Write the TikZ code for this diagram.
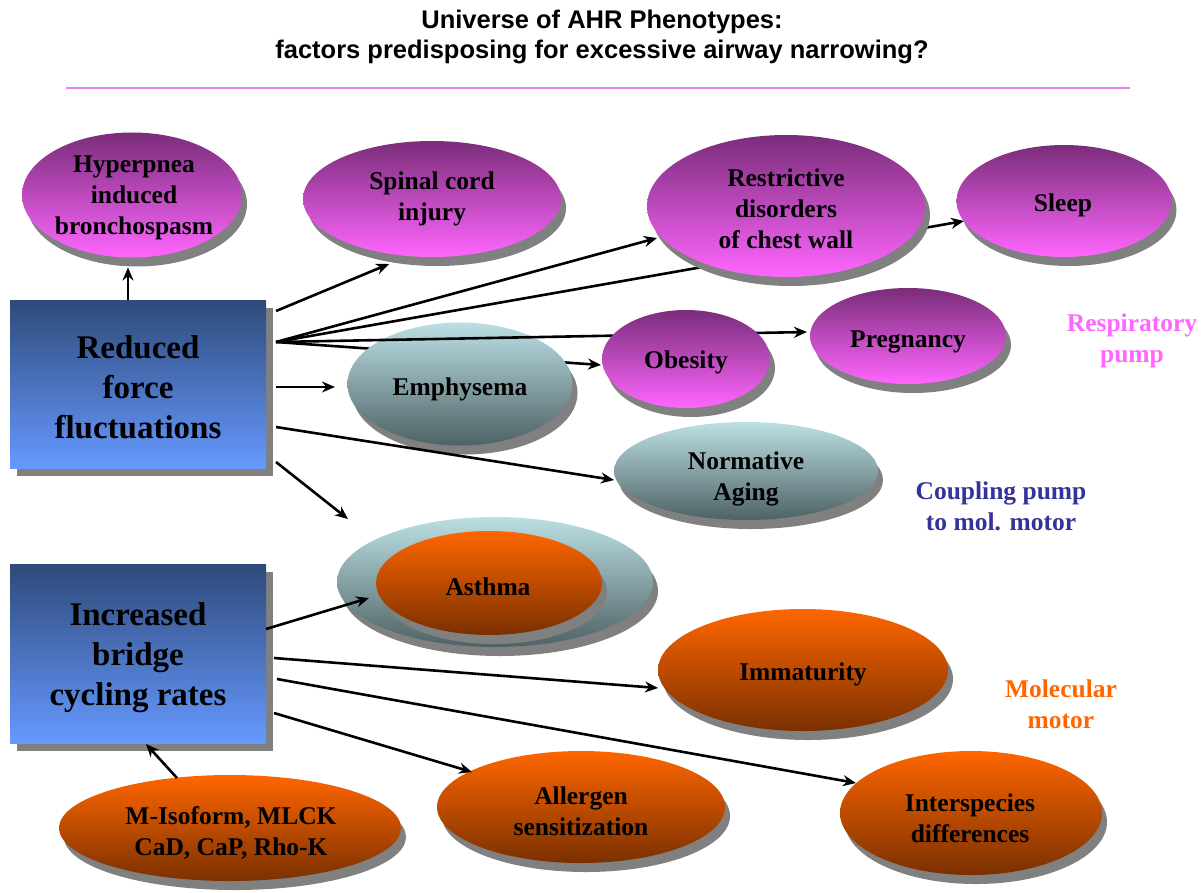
\documentclass[tikz,border=0pt]{standalone}
\usepackage{fontspec}
\setmainfont{Liberation Serif}
\newfontfamily\titlefont{Liberation Sans}
\usetikzlibrary{shapes.geometric,shadows,arrows.meta,calc}
\pgfdeclarelayer{under}
\pgfdeclarelayer{emphl}
\pgfdeclarelayer{midl}
\pgfsetlayers{under,emphl,midl,main}
\definecolor{shgray}{HTML}{808080}
\definecolor{magtop}{HTML}{7A2D7A}
\definecolor{magbot}{HTML}{FF66FF}
\definecolor{tealtop}{HTML}{BCE0E4}
\definecolor{tealbot}{HTML}{4E6265}
\definecolor{orgtop}{HTML}{FF6600}
\definecolor{orgbot}{HTML}{7A3000}
\definecolor{boxtop}{HTML}{2E4A7A}
\definecolor{boxbot}{HTML}{6699FF}
\definecolor{rulepink}{HTML}{F07FF0}
\definecolor{resppink}{HTML}{FF66FF}
\definecolor{coupblue}{HTML}{333399}
\definecolor{molorange}{HTML}{FF6600}
\begin{document}
\begin{tikzpicture}[x=1pt,y=-1pt,
  every node/.style={inner sep=0pt,outer sep=0pt},
  ell/.style={ellipse,draw=none,drop shadow={shadow xshift=5pt,shadow yshift=-9pt,opacity=1,fill=shgray}},
  magell/.style={ell,top color=magtop,bottom color=magbot},
  tealell/.style={ell,top color=tealtop,bottom color=tealbot},
  orgell/.style={ell,top color=orgtop,bottom color=orgbot},
  bigbox/.style={rectangle,minimum width=256pt,top color=boxtop,bottom color=boxbot,
     drop shadow={shadow xshift=7pt,shadow yshift=-8pt,opacity=1,fill=shgray}},
  boxlbl/.style={font=\bfseries\fontsize{33}{40}\selectfont,align=center},
  lbl/.style={font=\bfseries\fontsize{25.5}{31}\selectfont,align=center},
  conn/.style={line width=2.6pt,-{Stealth[length=13pt,width=11pt]}},
]
\useasboundingbox (0,0) rectangle (1204,892);

% title
\node[font=\titlefont\bfseries\fontsize{25.5}{30}\selectfont,align=center] (title) at (602,37)
  {Universe of AHR Phenotypes:\\factors predisposing for excessive airway narrowing?};
\coordinate (ruleL) at (66,88);
\coordinate (ruleR) at (1130,88);
\draw[rulepink,line width=2pt] (ruleL) -- (ruleR);

% boxes
\node[bigbox,minimum height=168pt] (reduced) at (138,384) {};
\node[boxlbl] (reduced-t) at (138,387) {Reduced\\force\\fluctuations};
\node[bigbox,minimum height=179pt] (increased) at (138,653.5) {};
\node[boxlbl] (increased-t) at (138,658) {Increased\\bridge\\cycling rates};

% ellipses
\node[magell,minimum width=220pt,minimum height=125pt] (hyper) at (132,195) {};
\node[lbl] (hyper-t) at (134,198) {Hyperpnea\\induced\\bronchospasm};
\node[magell,minimum width=258pt,minimum height=116pt] (spinal) at (432,199) {};
\node[lbl] (spinal-t) at (432,199) {Spinal cord\\injury};
\node[magell,minimum width=278pt,minimum height=142pt] (restrict) at (786,206) {};
\node[lbl] (restrict-t) at (786,209) {Restrictive\\disorders\\of chest wall};
\node[magell,minimum width=215pt,minimum height=112pt] (sleep) at (1064,201) {};
\node[lbl] (sleep-t) at (1063,205) {Sleep};
\node[magell,minimum width=196pt,minimum height=96pt] (preg) at (908,336) {};
\node[lbl] (preg-t) at (908,342) {Pregnancy};
\node[magell,minimum width=168pt,minimum height=98pt] (obesity) at (686,359) {};
\node[lbl] (obesity-t) at (686,362) {Obesity};
\begin{pgfonlayer}{emphl}
\node[tealell,minimum width=225pt,minimum height=123pt] (emph) at (460,384) {};
\end{pgfonlayer}
\node[lbl] (emph-t) at (460,389) {Emphysema};
\node[tealell,minimum width=264pt,minimum height=98pt] (aging) at (746,471) {};
\node[lbl] (aging-t) at (746,479) {Normative\\Aging};
\node[tealell,minimum width=316pt,minimum height=130pt] (asthmaO) at (495,582) {};
\node[orgell,minimum width=226pt,minimum height=104pt] (asthma) at (489,583) {};
\node[lbl] (asthma-t) at (488,587) {Asthma};
\node[orgell,minimum width=290pt,minimum height=122pt] (immat) at (803,670) {};
\node[lbl] (immat-t) at (803,674) {Immaturity};
\node[orgell,minimum width=288pt,minimum height=112pt] (allerg) at (581,807) {};
\node[lbl] (allerg-t) at (581,811) {Allergen\\sensitization};
\node[orgell,minimum width=262pt,minimum height=124pt] (inter) at (971,813) {};
\node[lbl] (inter-t) at (970,818) {Interspecies\\differences};
\node[orgell,minimum width=342pt,minimum height=106pt] (miso) at (230,828) {};
\node[lbl] (miso-t) at (231,833) {M-Isoform, MLCK\\CaD, CaP, Rho-K};

% side labels
\node[lbl,text=resppink] (resp) at (1132,341) {Respiratory\\pump};
\node[lbl,text=coupblue] (coup) at (1001,506) {Coupling pump\\to mol. motor};
\node[lbl,text=molorange] (molec) at (1061,704) {Molecular\\motor};

% connectors
\coordinate (fan) at ($(reduced.east)+(10,-42)$);
\begin{pgfonlayer}{under}
\draw[conn] (fan) -- ($(sleep)+(-100,20)$);
\draw[conn] (fan) -- ($(obesity)+(-85,6)$);
\end{pgfonlayer}
\begin{pgfonlayer}{midl}
\draw[conn] (fan) -- ($(preg)+(-101,-4)$);
\end{pgfonlayer}
\draw[conn] ($(reduced.north)+(-10,0)$) -- ($(hyper.south)+(-4,10)$);
\draw[conn] ($(reduced.east)+(10,-73)$) -- ($(spinal)+(-43,65)$);
\draw[conn] (fan) -- ($(restrict)+(-129,32)$);
\draw[conn] ($(reduced.east)+(10,3)$) -- ($(emph)+(-125,3)$);
\draw[conn] ($(reduced.east)+(10,43)$) -- ($(aging)+(-132,9)$);
\draw[conn] ($(reduced.east)+(10,78)$) -- ($(asthmaO)+(-147,-63)$);
\draw[conn] ($(increased.east)+(0,-24.5)$) -- ($(asthmaO)+(-126,16)$);
\draw[conn] ($(increased.east)+(8,4.5)$) -- ($(immat)+(-145,18)$);
\draw[conn] ($(increased.east)+(11,25.5)$) -- ($(inter)+(-115,-30)$);
\draw[conn] ($(increased.east)+(8,59.5)$) -- ($(allerg)+(-109,-35)$);
\draw[conn] ($(miso)+(-53,-50)$) -- ($(increased.south)+(8,1)$);
\end{tikzpicture}
\end{document}
